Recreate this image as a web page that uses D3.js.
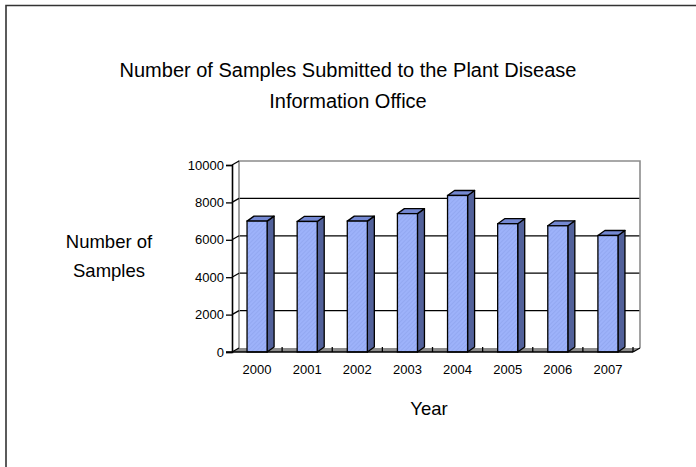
<!DOCTYPE html>
<html>
<head>
<meta charset="utf-8">
<script src="https://cdn.jsdelivr.net/npm/d3@7"></script>
<style>
  html, body { margin: 0; padding: 0; background: #fff; }
  svg { display: block; font-family: "Liberation Sans", Arial, sans-serif; }
</style>
</head>
<body>
<svg id="chart" width="696" height="467"></svg>
<script>
// Samples submitted per year
const years = ["2000", "2001", "2002", "2003", "2004", "2005", "2006", "2007"];
const samples = [7000, 6980, 7000, 7400, 8370, 6860, 6750, 6230];
const yTicks = [0, 2000, 4000, 6000, 8000, 10000];
const titleLines = ["Number of Samples Submitted to the Plant Disease", "Information Office"];
const yTitleLines = ["Number of", "Samples"];
const xTitle = "Year";

const svg = d3.select("#chart");

// outer frame of the chart area
svg.append("path")
  .attr("d", "M6,470 L6,5.5 L700,5.5")
  .attr("fill", "none").attr("stroke", "#333").attr("stroke-width", 1.6);

// pseudo-3D depth of the plot box and of the columns
const wallDx = 7, wallDy = -4;
const barDx = 7, barDy = -5;

const x = d3.scaleBand().domain(years).range([232, 633])
  .paddingInner(0.6).paddingOuter(0.3);
const y = d3.scaleLinear().domain([0, 10000]).range([352, 165]);

const defs = svg.append("defs");
const pat = defs.append("pattern").attr("id", "hatch")
  .attr("patternUnits", "userSpaceOnUse").attr("width", 3).attr("height", 3)
  .attr("patternTransform", "rotate(45)");
pat.append("rect").attr("width", 3).attr("height", 3).attr("fill", "#9db2fa");
pat.append("line").attr("x1", 0).attr("y1", 0).attr("x2", 0).attr("y2", 3)
  .attr("stroke", "#8a9fe8").attr("stroke-width", 1);

const [x0, x1] = x.range();
const y0 = y(0), yTop = y(10000);

// floor
svg.append("polygon")
  .attr("points", [[x0, y0], [x1, y0], [x1 + wallDx, y0 + wallDy], [x0 + wallDx, y0 + wallDy]].join(" "))
  .attr("fill", "#8c8c8c");

// back wall gridlines
svg.append("g").selectAll("line").data(yTicks.filter(t => t > 0 && t < 10000)).join("line")
  .attr("x1", x0 + wallDx).attr("x2", x1 + wallDx)
  .attr("y1", d => y(d) + wallDy).attr("y2", d => y(d) + wallDy)
  .attr("stroke", "#000").attr("stroke-width", 1.3);

// back wall outline
svg.append("path")
  .attr("d", `M${x0 + wallDx},${y0 + wallDy} L${x0 + wallDx},${yTop + wallDy} L${x1 + wallDx},${yTop + wallDy} L${x1 + wallDx},${y0 + wallDy}`)
  .attr("fill", "none").attr("stroke", "#8c8c8c").attr("stroke-width", 1.6);

// diagonal links from the value axis to the wall at each tick
svg.append("g").selectAll("line").data(yTicks).join("line")
  .attr("x1", x0).attr("x2", x0 + wallDx)
  .attr("y1", d => y(d)).attr("y2", d => y(d) + wallDy)
  .attr("stroke", "#000").attr("stroke-width", 1.3);

// category tick marks along the floor
svg.append("g").selectAll("line").data(years.slice(1).concat(["end"])).join("line")
  .attr("x1", (d, i) => x0 + x.step() * (i + 1)).attr("x2", (d, i) => x0 + x.step() * (i + 1))
  .attr("y1", y0).attr("y2", y0 - 5)
  .attr("stroke", "#000").attr("stroke-width", 1.3);

// columns
const bw = x.bandwidth();
const bars = svg.append("g").selectAll("g").data(years.map((yr, i) => ({ yr, v: samples[i] }))).join("g");
bars.append("polygon") // side
  .attr("points", d => {
    const l = x(d.yr) + bw, t = y(d.v);
    return [[l, y0], [l, t], [l + barDx, t + barDy], [l + barDx, y0 + barDy]].join(" ");
  })
  .attr("fill", "#52619a").attr("stroke", "#000").attr("stroke-width", 1.3).attr("stroke-linejoin", "round");
bars.append("polygon") // top
  .attr("points", d => {
    const l = x(d.yr), t = y(d.v);
    return [[l, t], [l + bw, t], [l + bw + barDx, t + barDy], [l + barDx, t + barDy]].join(" ");
  })
  .attr("fill", "#7488d2").attr("stroke", "#000").attr("stroke-width", 1.3).attr("stroke-linejoin", "round");
bars.append("rect") // front
  .attr("x", d => x(d.yr)).attr("y", d => y(d.v))
  .attr("width", bw).attr("height", d => y0 - y(d.v))
  .attr("fill", "url(#hatch)").attr("stroke", "#000").attr("stroke-width", 1.3);

// value axis
const yAxis = svg.append("g").attr("transform", `translate(${x0},0)`)
  .call(d3.axisLeft(y).tickValues(yTicks).tickSize(6).tickPadding(2).tickFormat(d3.format("d")));
yAxis.select(".domain").attr("stroke", "#000").attr("stroke-width", 1.6);
yAxis.selectAll(".tick line").attr("stroke", "#000").attr("stroke-width", 1.3);
yAxis.selectAll("text").attr("font-size", 13).attr("fill", "#000")
  .attr("font-family", "Liberation Sans, Arial, sans-serif");

// category axis
svg.append("line").attr("x1", x0 - 6).attr("x2", x1).attr("y1", y0).attr("y2", y0)
  .attr("stroke", "#000").attr("stroke-width", 1.6);
svg.append("line").attr("x1", x1).attr("x2", x1 + wallDx).attr("y1", y0).attr("y2", y0 + wallDy)
  .attr("stroke", "#000").attr("stroke-width", 1.3);
svg.append("g").selectAll("text").data(years).join("text")
  .attr("x", d => x(d) + bw / 2).attr("y", 374)
  .attr("text-anchor", "middle").attr("font-size", 13).attr("fill", "#000")
  .text(d => d);

// titles
svg.append("g").selectAll("text").data(titleLines).join("text")
  .attr("x", 348).attr("y", (d, i) => 77 + i * 31)
  .attr("text-anchor", "middle").attr("font-size", 20).attr("fill", "#000")
  .text(d => d);
svg.append("g").selectAll("text").data(yTitleLines).join("text")
  .attr("x", 109).attr("y", (d, i) => 248 + i * 29)
  .attr("text-anchor", "middle").attr("font-size", 18.5).attr("fill", "#000")
  .text(d => d);
svg.append("text").attr("x", 429).attr("y", 415)
  .attr("text-anchor", "middle").attr("font-size", 18.5).attr("fill", "#000")
  .text(xTitle);
</script>
</body>
</html>
